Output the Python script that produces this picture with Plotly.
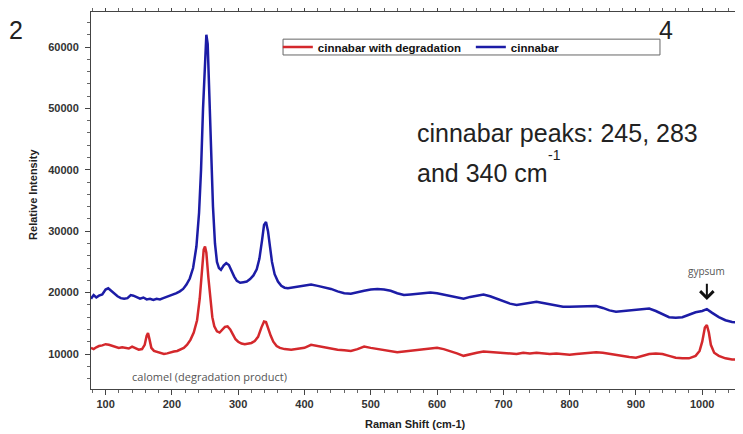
import plotly.graph_objects as go

blue_x = [78, 82, 86, 90, 95, 100, 104, 108, 113, 118, 123, 128, 133, 138, 142, 147, 152, 157, 162, 167,
          172, 177, 182, 187, 192, 197, 202, 207, 212, 217, 222, 227, 232, 237, 241, 244, 247, 250, 252, 254,
          256, 259, 262, 265, 268, 271, 274, 278, 282, 286, 290, 294, 298, 303, 308, 313, 318, 323, 328, 332,
          336, 339, 342, 345, 348, 351, 355, 360, 365, 370, 375, 380, 390, 400, 410, 420, 430, 440, 450, 460,
          470, 480, 490, 500, 510, 520, 530, 540, 550, 560, 570, 580, 590, 600, 610, 620, 630, 640, 650, 660,
          670, 680, 690, 700, 710, 720, 730, 740, 750, 760, 770, 780, 790, 800, 810, 820, 830, 840, 850, 860,
          870, 880, 890, 900, 910, 920, 930, 940, 950, 960, 970, 980, 990, 1000, 1007, 1015, 1025, 1035, 1045, 1060]
blue_y = [19000, 19600, 19200, 19500, 19700, 20500, 20700, 20300, 19800, 19400, 19100, 19000, 19100, 19600, 19500, 19200, 19000, 19200, 18900, 19000,
          18800, 19000, 18900, 19100, 19300, 19400, 19700, 19900, 20200, 20600, 21300, 22300, 24000, 27500, 33000, 40000, 50000, 58000, 62000, 60500,
          53000, 43000, 34000, 28000, 25000, 24000, 23700, 24400, 24800, 24500, 23500, 22600, 21900, 21600, 21700, 21800, 22200, 22800, 23800, 25500,
          28500, 31000, 31500, 30000, 27500, 25000, 23000, 21800, 21100, 20800, 20700, 20800, 20900, 21100, 21300, 21100, 20900, 20600, 20200, 19900,
          19800, 20100, 20300, 20500, 20600, 20500, 20300, 19900, 19600, 19700, 19800, 19800, 20000, 19900, 19700, 19500, 19200, 19000, 19300, 19500,
          19700, 19400, 19000, 18600, 18200, 18000, 18200, 18400, 18500, 18300, 18100, 17900, 17700, 17700, 17700, 17800, 17800, 17800, 17500, 17100,
          16900, 17000, 17100, 17300, 17300, 17400, 17000, 16500, 16000, 15900, 16000, 16400, 16800, 17000, 17300, 16700, 16000, 15500, 15200, 15100]

red_x = [78, 82, 86, 90, 95, 100, 105, 110, 115, 120, 125, 130, 135, 140, 145, 150, 155, 159, 162, 164,
         166, 169, 173, 178, 183, 188, 193, 198, 203, 208, 213, 218, 223, 228, 233, 238, 242, 245, 248, 250,
         252, 255, 258, 261, 264, 268, 272, 276, 280, 284, 288, 292, 296, 300, 305, 310, 315, 320, 325, 330,
         335, 339, 342, 345, 349, 353, 358, 363, 370, 380, 390, 400, 410, 420, 430, 440, 450, 460, 470, 480,
         490, 500, 510, 520, 530, 540, 550, 560, 570, 580, 590, 600, 610, 620, 630, 640, 650, 660, 670, 680,
         690, 700, 710, 720, 730, 740, 750, 760, 770, 780, 790, 800, 810, 820, 830, 840, 850, 860, 870, 880,
         890, 900, 910, 920, 930, 940, 950, 960, 970, 980, 990, 996, 1000, 1004, 1007, 1010, 1013, 1018, 1025, 1035,
         1045, 1060]
red_y = [11000, 10800, 11100, 11300, 11400, 11600, 11500, 11300, 11200, 11000, 11100, 11000, 10900, 11200, 11000, 10700, 10800, 11500, 13000, 13400,
         12500, 11000, 10500, 10300, 10100, 10000, 10100, 10300, 10400, 10500, 10700, 11000, 11500, 12300, 13500, 15500, 19000, 23500, 27000, 27500,
         26500, 22500, 18500, 16000, 14500, 13700, 13500, 13900, 14400, 14500, 14000, 13200, 12400, 12000, 11700, 11600, 11700, 11800, 12100, 12800,
         14300, 15300, 15200, 14200, 13000, 12000, 11300, 11000, 10800, 10700, 10800, 11000, 11500, 11300, 11000, 10800, 10700, 10600, 10500, 10800,
         11200, 11000, 10800, 10700, 10500, 10300, 10400, 10500, 10700, 10800, 10900, 11000, 10800, 10500, 10100, 9700, 10000, 10200, 10400, 10300,
         10300, 10200, 10000, 10000, 10200, 10100, 10200, 10100, 10000, 10100, 10000, 9900, 10000, 10100, 10200, 10300, 10200, 10000, 9800, 9600,
         9500, 9400, 9700, 10000, 10100, 10000, 9700, 9400, 9300, 9300, 9700, 10500, 12000, 14300, 14700, 13500, 11500, 10200, 9700, 9300,
         9100, 9100]

x_ticks = [100, 200, 300, 400, 500, 600, 700, 800, 900, 1000]
y_ticks = [10000, 20000, 30000, 40000, 50000, 60000]

RED = "#d4282c"
BLUE = "#1c1ca6"

fig = go.Figure()
fig.add_trace(go.Scatter(x=red_x, y=red_y, mode="lines", name="cinnabar with degradation",
                         line=dict(color=RED, width=2.5)))
fig.add_trace(go.Scatter(x=blue_x, y=blue_y, mode="lines", name="cinnabar",
                         line=dict(color=BLUE, width=2.5)))

tick_font = dict(family="Liberation Sans", size=11, color="#333333", weight="bold")
title_font = dict(family="Liberation Sans", size=11, color="#222222", weight="bold")

# The page body adds an 8px offset, so the figure is 8px smaller and margins are shifted.
fig.update_layout(
    width=735, height=426,
    margin=dict(l=83, r=1, t=4, b=45),
    paper_bgcolor="white", plot_bgcolor="white",
    showlegend=True,
    legend=dict(orientation="h", x=0.287, y=0.907, xanchor="left", yanchor="middle",
                borderwidth=0, bgcolor="rgba(0,0,0,0)",
                font=dict(family="Liberation Sans", size=11.5, color="#111111", weight="bold"),
                entrywidth=148, itemwidth=30, tracegroupgap=0),
    shapes=[dict(type="rect", xref="paper", yref="paper", x0=0.295, x1=0.874, y0=0.886, y1=0.928,
                 line=dict(color="#666666", width=1), fillcolor="white", layer="below")],
    xaxis=dict(range=[78, 1060], tickvals=x_ticks, ticktext=[str(v) for v in x_ticks],
               automargin=False,
               showgrid=False, zeroline=False, showline=True, linecolor="#444444", linewidth=1,
               mirror="allticks", ticks="outside", ticklen=5, tickcolor="#444444",
               minor=dict(dtick=20, ticks="outside", ticklen=3, tickcolor="#666666"),
               tickfont=tick_font),
    yaxis=dict(range=[4300, 65700], tickvals=y_ticks, ticktext=[str(v) for v in y_ticks],
               automargin=False,
               showgrid=False, zeroline=False, showline=True, linecolor="#444444", linewidth=1,
               mirror="allticks", ticks="outside", ticklen=5, tickcolor="#444444",
               ticklabelstandoff=4,
               minor=dict(dtick=2000, ticks="outside", ticklen=3, tickcolor="#666666"),
               tickfont=tick_font),
)

# axis titles
fig.add_annotation(xref="paper", yref="paper", x=0.498, y=-0.093, text="Raman Shift (cm-1)", showarrow=False,
                   font=title_font, xanchor="center", yanchor="middle")
fig.add_annotation(xref="paper", yref="paper", x=-0.089, y=0.515, text="Relative Intensity", showarrow=False,
                   font=title_font, xanchor="center", yanchor="middle", textangle=-90)

big = dict(family="Liberation Sans", size=25, color="#222222")
fig.add_annotation(xref="paper", yref="paper", x=-0.115, y=0.952, text="2", showarrow=False,
                   font=big, xanchor="center", yanchor="middle")
fig.add_annotation(xref="paper", yref="paper", x=0.884, y=0.952, text="4", showarrow=False,
                   font=big, xanchor="center", yanchor="middle")
fig.add_annotation(xref="paper", yref="paper", x=0.497, y=0.679, text="cinnabar peaks: 245, 283", showarrow=False,
                   font=big, xanchor="left", yanchor="middle")
fig.add_annotation(xref="paper", yref="paper", x=0.497, y=0.573, text="and 340 cm", showarrow=False,
                   font=big, xanchor="left", yanchor="middle")
fig.add_annotation(xref="paper", yref="paper", x=0.699, y=0.622, text="-1", showarrow=False,
                   font=dict(family="Liberation Sans", size=14, color="#222222"), xanchor="left", yanchor="middle")
fig.add_annotation(xref="paper", yref="paper", x=0.06, y=0.034, text="calomel (degradation product)", showarrow=False,
                   font=dict(family="Open Sans", size=11, color="#555555"), xanchor="left", yanchor="middle")
fig.add_annotation(x=1007, y=18800, ax=1007, ay=21700, xref="x", yref="y", axref="x", ayref="y",
                   text="", showarrow=True, arrowhead=4, arrowsize=1.3, arrowwidth=2, arrowcolor="#111111")
fig.add_annotation(x=1006, y=22000, xref="x", yref="y", text="gypsum", showarrow=False,
                   font=dict(family="Open Sans", size=10, color="#555555"), xanchor="center", yanchor="bottom")

fig.write_html("out.html")
